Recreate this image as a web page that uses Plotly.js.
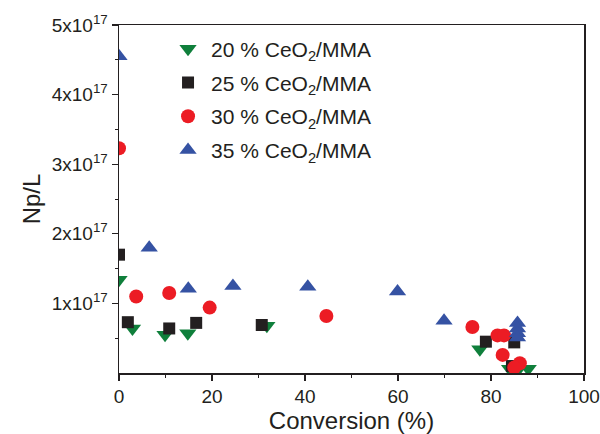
<!DOCTYPE html>
<html>
<head>
<meta charset="utf-8">
<script src="https://cdn.plot.ly/plotly-3.0.1.min.js"></script>
<style>html,body{margin:0;padding:0;background:#fff;}#chart{width:600px;height:434px;}</style>
</head>
<body>
<div id="chart"></div>
<script>
// Conversion (%) and Np/L (units of 1e17)
const names = ['20 % CeO<sub>2</sub>/MMA', '25 % CeO<sub>2</sub>/MMA', '30 % CeO<sub>2</sub>/MMA', '35 % CeO<sub>2</sub>/MMA'];
const x20 = [0, 2.9, 9.9, 14.8, 31.8, 77.6, 84, 86, 88];
const y20 = [1.34, 0.64, 0.55, 0.57, 0.68, 0.34, 0.06, 0.06, 0.06];
const x25 = [0, 1.9, 10.8, 16.6, 30.7, 78.9, 85, 84.5];
const y25 = [1.70, 0.73, 0.64, 0.72, 0.69, 0.45, 0.44, 0.10];
const x30 = [0, 3.7, 10.8, 19.5, 44.6, 76, 81.4, 82.8, 82.5, 86.2, 85];
const y30 = [3.23, 1.10, 1.15, 0.94, 0.82, 0.66, 0.54, 0.54, 0.26, 0.14, 0.08];
const x35 = [0, 6.5, 14.9, 24.5, 40.6, 59.9, 69.9, 85.7, 85.7, 85.7, 85.7];
const y35 = [4.55, 1.80, 1.21, 1.25, 1.24, 1.17, 0.75, 0.72, 0.64, 0.57, 0.51];
const yTickVals = [1, 2, 3, 4, 5];
const yTickText = ['1x10<sup>17</sup>', '2x10<sup>17</sup>', '3x10<sup>17</sup>', '4x10<sup>17</sup>', '5x10<sup>17</sup>'];
const xTickVals = [0, 20, 40, 60, 80, 100];

const colors = ['#0f7f3b', '#231f20', '#ec1c24', '#3552a3'];
const symbols = ['triangle-down', 'square', 'circle', 'triangle-up'];
const sizes = [15, 12, 14, 15];
const xs = [x20, x25, x30, x35];
const ys = [y20, y25, y30, y35];

const traces = names.map((n, i) => ({
  type: 'scatter', mode: 'markers', name: n,
  x: xs[i], y: ys[i], legendgroup: 'g' + i,
  marker: {symbol: symbols[i], color: colors[i], size: sizes[i], line: {width: 0}},
  cliponaxis: true
}));

const axisFont = {family: 'Liberation Sans, Arial, sans-serif', size: 19, color: '#231f20'};
const layout = {
  width: 600, height: 434,
  margin: {l: 119, r: 16, t: 25, b: 61},
  paper_bgcolor: '#fff', plot_bgcolor: '#fff',
  showlegend: true,
  legend: {x: 0.099, y: 0.99, xanchor: 'left', yanchor: 'top', bgcolor: 'rgba(0,0,0,0)', itemwidth: 36,
    font: {family: 'Liberation Sans, Arial, sans-serif', size: 21, color: '#231f20'}, tracegroupgap: 3.5},
  xaxis: {
    range: [0, 100], tickvals: xTickVals, ticks: 'outside', ticklen: 6, tickwidth: 1.3,
    tickcolor: '#231f20', showline: true, linecolor: '#231f20', linewidth: 1.5, mirror: true,
    showgrid: false, zeroline: false, tickfont: axisFont,
    minor: {dtick: 10, ticks: 'outside', ticklen: 3, tickcolor: '#231f20', tickwidth: 1, showgrid: false},
    title: {text: 'Conversion (%)', font: {family: 'Liberation Sans, Arial, sans-serif', size: 24, color: '#231f20'}, standoff: 5}
  },
  yaxis: {
    range: [0, 5], tickvals: yTickVals, ticktext: yTickText, ticks: 'outside', ticklen: 6, tickwidth: 1.3,
    tickcolor: '#231f20', showline: true, linecolor: '#231f20', linewidth: 1.5, mirror: true,
    showgrid: false, zeroline: false, tickfont: axisFont,
    minor: {tickvals: [0.5, 1.5, 2.5, 3.5, 4.5], ticks: 'outside', ticklen: 3, tickcolor: '#231f20', tickwidth: 1, showgrid: false},
    title: {text: 'Np/L', font: {family: 'Liberation Sans, Arial, sans-serif', size: 24, color: '#231f20'}, standoff: 4}
  }
};
Plotly.newPlot('chart', traces, layout, {displayModeBar: false, staticPlot: true});
</script>
</body>
</html>
